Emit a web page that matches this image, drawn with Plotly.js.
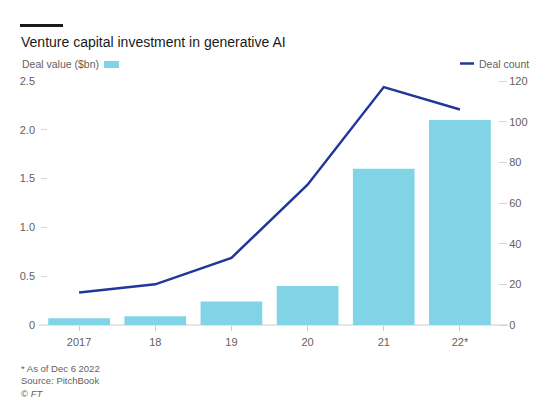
<!DOCTYPE html>
<html>
<head>
<meta charset="utf-8">
<script src="https://cdn.plot.ly/plotly-3.0.1.min.js"></script>
<style>html,body{margin:0;padding:0;background:#fff;}</style>
</head>
<body>
<div id="chart" style="width:557px;height:400px;"></div>
<script>
var years = ["2017", "18", "19", "20", "21", "22*"];
var dealValue = [0.07, 0.09, 0.24, 0.40, 1.60, 2.10];
var dealCount = [16, 20, 33, 69, 117, 106];
var leftTicks = [0, 0.5, 1.0, 1.5, 2.0, 2.5];
var leftTickText = ["0", "0.5", "1.0", "1.5", "2.0", "2.5"];
var rightTicks = [0, 20, 40, 60, 80, 100, 120];

var barColor = "#81d3e6";
var lineColor = "#22379a";
var txtGray = "#66605c";
var fontMain = "Liberation Sans, Arial, sans-serif";

var traces = [
  {type: "bar", x: years, y: dealValue, name: "Deal value ($bn)",
   marker: {color: barColor}, yaxis: "y", hoverinfo: "none"},
  {type: "scatter", mode: "lines", x: years, y: dealCount, name: "Deal count",
   line: {color: lineColor, width: 2.5}, yaxis: "y2", hoverinfo: "none"}
];

var layout = {
  width: 557, height: 400,
  margin: {l: 41, r: 59, t: 81, b: 75},
  paper_bgcolor: "#fff", plot_bgcolor: "#fff",
  showlegend: false,
  bargap: 0.19,
  font: {family: fontMain, size: 11, color: txtGray},
  xaxis: {type: "category", showgrid: false, zeroline: false, showline: false,
          ticks: "outside", ticklen: 5, tickcolor: "#cccccc", tickwidth: 1,
          ticklabelstandoff: 2,
          tickfont: {size: 11, color: txtGray}, fixedrange: true},
  yaxis: {range: [0, 2.5], tickvals: leftTicks, ticktext: leftTickText,
          showgrid: false, zeroline: false, showline: false,
          ticks: "inside", ticklen: 6, tickcolor: "#d6d6d6", tickwidth: 1,
          ticklabelstandoff: 5,
          tickfont: {size: 11, color: txtGray}, fixedrange: true},
  yaxis2: {range: [0, 120], tickvals: rightTicks, overlaying: "y", side: "right",
           showgrid: false, zeroline: false, showline: false,
           ticks: "outside", ticklen: 8, tickcolor: "#d6d6d6", tickwidth: 1,
           tickfont: {size: 11, color: txtGray}, fixedrange: true},
  shapes: [
    {type: "line", xref: "paper", yref: "paper", x0: -0.005, x1: 1.022, y0: 0, y1: 0,
     line: {color: "#cccccc", width: 1.2}, layer: "below"},
    {type: "rect", xref: "paper", yref: "paper", x0: -21/457, x1: 22/457,
     y0: (325-24)/244, y1: (325-27)/244, fillcolor: "#1a1a1a", line: {width: 0}},
    {type: "rect", xref: "paper", yref: "paper", x0: 63/457, x1: 78/457,
     y0: (325-61)/244, y1: (325-68)/244, fillcolor: barColor, line: {width: 0}},
    {type: "line", xref: "paper", yref: "paper", x0: 419/457, x1: 433/457,
     y0: (325-63.5)/244, y1: (325-63.5)/244, line: {color: lineColor, width: 2.5}}
  ],
  annotations: [
    {text: "Venture capital investment in generative AI", xref: "paper", yref: "paper",
     x: -22/457, y: (325-42)/244, xanchor: "left", yanchor: "middle", showarrow: false,
     font: {size: 14, color: "#1a1a1a", family: fontMain}},
    {text: "Deal value ($bn)", xref: "paper", yref: "paper",
     x: -21/457, y: (325-64)/244, xanchor: "left", yanchor: "middle", showarrow: false,
     font: {size: 10.5, color: txtGray}},
    {text: "Deal count", xref: "paper", yref: "paper",
     x: 436/457, y: (325-64)/244, xanchor: "left", yanchor: "middle", showarrow: false,
     font: {size: 10.5, color: txtGray}},
    {text: "* As of Dec 6 2022<br>Source: PitchBook<br>© <i>FT</i>", xref: "paper", yref: "paper",
     x: -22/457, y: (325-361)/244, xanchor: "left", yanchor: "top", align: "left", showarrow: false,
     font: {size: 9.5, color: txtGray}}
  ]
};

Plotly.newPlot("chart", traces, layout, {staticPlot: true, displayModeBar: false});
</script>
</body>
</html>
